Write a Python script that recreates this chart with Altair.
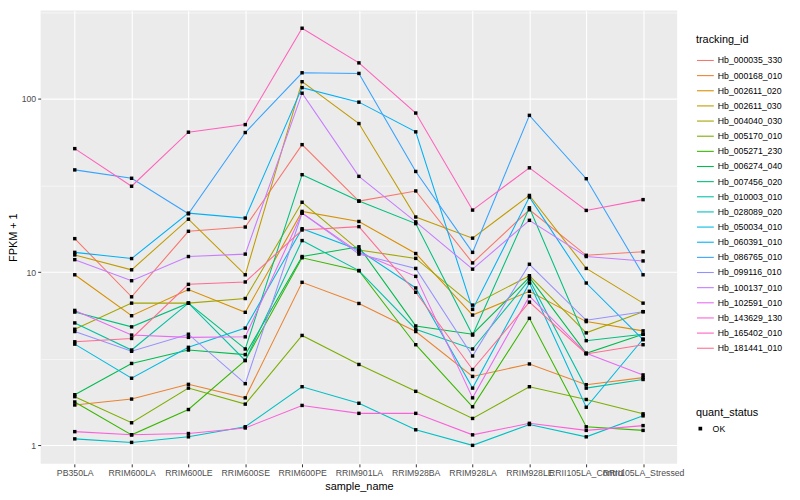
import altair as alt
import pandas as pd

samples = ["PB350LA", "RRIM600LA", "RRIM600LE", "RRIM600SE", "RRIM600PE", "RRIM901LA",
           "RRIM928BA", "RRIM928LA", "RRIM928LE", "RRII105LA_Control", "RRII105LA_Stressed"]

tracking_ids = ["Hb_000035_330", "Hb_000168_010", "Hb_002611_020", "Hb_002611_030",
                "Hb_004040_030", "Hb_005170_010", "Hb_005271_230", "Hb_006274_040",
                "Hb_007456_020", "Hb_010003_010", "Hb_028089_020", "Hb_050034_010",
                "Hb_060391_010", "Hb_086765_010", "Hb_099116_010", "Hb_100137_010",
                "Hb_102591_010", "Hb_143629_130", "Hb_165402_010", "Hb_181441_010"]

Hb_000035_330 = [15.6, 7.2, 17.2, 18.2, 54.4, 25.7, 29.4, 11.3, 22.9, 12.5, 13.1]
Hb_000168_010 = [1.71, 1.85, 2.25, 1.88, 8.73, 6.59, 4.54, 2.50, 2.95, 2.24, 2.46]
Hb_002611_020 = [9.65, 5.6, 7.93, 5.86, 22.4, 19.6, 12.8, 5.65, 7.75, 5.18, 4.58]
Hb_002611_030 = [12.56, 10.31, 20.2, 9.65, 125.6, 72.0, 20.8, 15.7, 27.7, 10.5, 6.62]
Hb_004040_030 = [4.68, 6.62, 6.62, 7.04, 25.3, 13.4, 12.0, 6.45, 9.53, 4.46, 5.91]
Hb_005170_010 = [1.91, 1.35, 2.14, 1.73, 4.31, 2.93, 2.05, 1.43, 2.18, 1.84, 1.52]
Hb_005271_230 = [1.78, 1.15, 1.61, 3.09, 12.1, 10.2, 3.81, 1.67, 5.41, 1.28, 1.22]
Hb_006274_040 = [1.96, 2.97, 3.55, 3.34, 12.3, 14.0, 4.89, 4.38, 9.32, 3.40, 4.38]
Hb_007456_020 = [5.88, 4.83, 6.62, 3.6, 36.5, 25.7, 19.05, 4.33, 23.5, 4.02, 4.38]
Hb_010003_010 = [5.09, 3.55, 6.62, 3.09, 15.2, 10.2, 4.68, 3.6, 9.04, 2.14, 2.40]
Hb_028089_020 = [1.09, 1.04, 1.12, 1.28, 2.18, 1.75, 1.23, 1.0, 1.32, 1.12, 1.48]
Hb_050034_010 = [3.84, 2.44, 3.68, 4.75, 17.8, 13.4, 8.1, 2.14, 8.65, 1.66, 4.11]
Hb_060391_010 = [13.0, 11.97, 21.9, 20.5, 116.1, 95.7, 64.5, 6.09, 27.1, 8.65, 4.07]
Hb_086765_010 = [38.9, 34.8, 21.7, 63.9, 141.4, 140.2, 38.1, 13.0, 80.3, 34.6, 9.65]
Hb_099116_010 = [4.54, 3.49, 4.38, 2.27, 21.9, 12.7, 10.5, 3.28, 11.1, 5.27, 5.91]
Hb_100137_010 = [11.8, 8.92, 12.3, 12.7, 107.8, 35.7, 19.5, 10.4, 19.9, 12.3, 11.6]
Hb_102591_010 = [6.01, 4.33, 4.2, 4.23, 21.9, 13.0, 9.45, 1.88, 7.26, 3.40, 2.55]
Hb_143629_130 = [1.20, 1.15, 1.17, 1.26, 1.70, 1.53, 1.53, 1.15, 1.34, 1.22, 1.30]
Hb_165402_010 = [51.6, 31.3, 64.2, 71.0, 255.6, 161.3, 82.8, 22.8, 40.0, 22.7, 26.2]
Hb_181441_010 = [3.96, 4.14, 8.5, 8.77, 17.5, 18.3, 7.65, 2.74, 6.71, 3.37, 3.81]

series = [Hb_000035_330, Hb_000168_010, Hb_002611_020, Hb_002611_030, Hb_004040_030,
          Hb_005170_010, Hb_005271_230, Hb_006274_040, Hb_007456_020, Hb_010003_010,
          Hb_028089_020, Hb_050034_010, Hb_060391_010, Hb_086765_010, Hb_099116_010,
          Hb_100137_010, Hb_102591_010, Hb_143629_130, Hb_165402_010, Hb_181441_010]

palette = ["#F8766D", "#EA8331", "#D89000", "#C09B00", "#A3A500", "#7CAE00", "#39B600",
           "#00BB4E", "#00BF7D", "#00C1A3", "#00BFC4", "#00BAE0", "#00B0F6", "#35A2FF",
           "#9590FF", "#C77CFF", "#E76BF3", "#FA62DB", "#FF62BC", "#FF6C91"]

y_ticks = [1, 3.1623, 10, 31.623, 100, 316.23]
y_domain = [0.782, 323.6]

rows = []
for tid, vals in zip(tracking_ids, series):
    for s, v in zip(samples, vals):
        rows.append({"sample_name": s, "tracking_id": tid, "FPKM": v, "quant_status": "OK"})
df = pd.DataFrame(rows)

FONT = "Liberation Sans"
major_test = "datum.value == 1 || datum.value == 10 || datum.value == 100"

x_enc = alt.X(
    "sample_name:N", sort=samples,
    scale=alt.Scale(type="point", padding=0.6),
    axis=alt.Axis(title="sample_name", labelAngle=0, labelOverlap=False, grid=True,
                  gridColor="white", gridWidth=1.1, domain=False, tickColor="#333333",
                  tickSize=3, labelColor="#4D4D4D", labelFontSize=8.8, labelPadding=2,
                  titleFontSize=11, titleFontWeight="normal", titleColor="black",
                  titlePadding=3, labelFont=FONT, titleFont=FONT),
)
y_enc = alt.Y(
    "FPKM:Q", title="FPKM + 1",
    scale=alt.Scale(type="log", domain=y_domain, nice=False),
    axis=alt.Axis(values=y_ticks,
                  labelExpr="(" + major_test + ") ? format(datum.value, 'd') : ''",
                  grid=True, gridColor="white",
                  gridWidth={"condition": {"test": major_test, "value": 1.1}, "value": 0.55},
                  tickOpacity={"condition": {"test": major_test, "value": 1}, "value": 0},
                  domain=False, tickColor="#333333", tickSize=3, labelColor="#4D4D4D",
                  labelFontSize=8.8, labelPadding=2, titleFontSize=11,
                  titleFontWeight="normal", titleColor="black", titlePadding=3,
                  labelFont=FONT, titleFont=FONT),
)

lines = alt.Chart(df).mark_line(strokeWidth=1.07).encode(
    x=x_enc, y=y_enc,
    color=alt.Color("tracking_id:N", scale=alt.Scale(domain=tracking_ids, range=palette),
                    legend=alt.Legend(title="tracking_id", orient="none", legendX=662,
                                      legendY=24, symbolType="stroke", symbolStrokeWidth=1.1,
                                      symbolSize=289, rowPadding=0.3, labelOffset=3,
                                      labelFontSize=8.8, labelColor="black", titleFontSize=11,
                                      titleFontWeight="normal", titleColor="black",
                                      titlePadding=6, labelFont=FONT, titleFont=FONT)),
)

points = alt.Chart(df).mark_point(filled=True, size=12, color="black", opacity=1).encode(
    x=alt.X("sample_name:N", sort=samples), y="FPKM:Q",
    shape=alt.Shape("quant_status:N", scale=alt.Scale(range=["square"]),
                    legend=alt.Legend(title="quant_status", orient="none", legendX=662,
                                      legendY=401, symbolFillColor="black",
                                      symbolStrokeColor="black", symbolSize=14,
                                      labelOffset=8,
                                      labelFontSize=8.8, labelColor="black",
                                      titleFontSize=11, titleFontWeight="normal",
                                      titleColor="black", titlePadding=6,
                                      labelFont=FONT, titleFont=FONT)),
)

chart = alt.layer(lines, points).properties(
    width=643, height=458,
    autosize=alt.AutoSizeParams(type="none"),
    padding={"left": 33, "top": 0, "right": 116, "bottom": 34},
).configure(font=FONT).configure_view(fill="#EBEBEB", stroke=None)

chart.save("out.html", embed_options={"renderer": "svg", "actions": False})
